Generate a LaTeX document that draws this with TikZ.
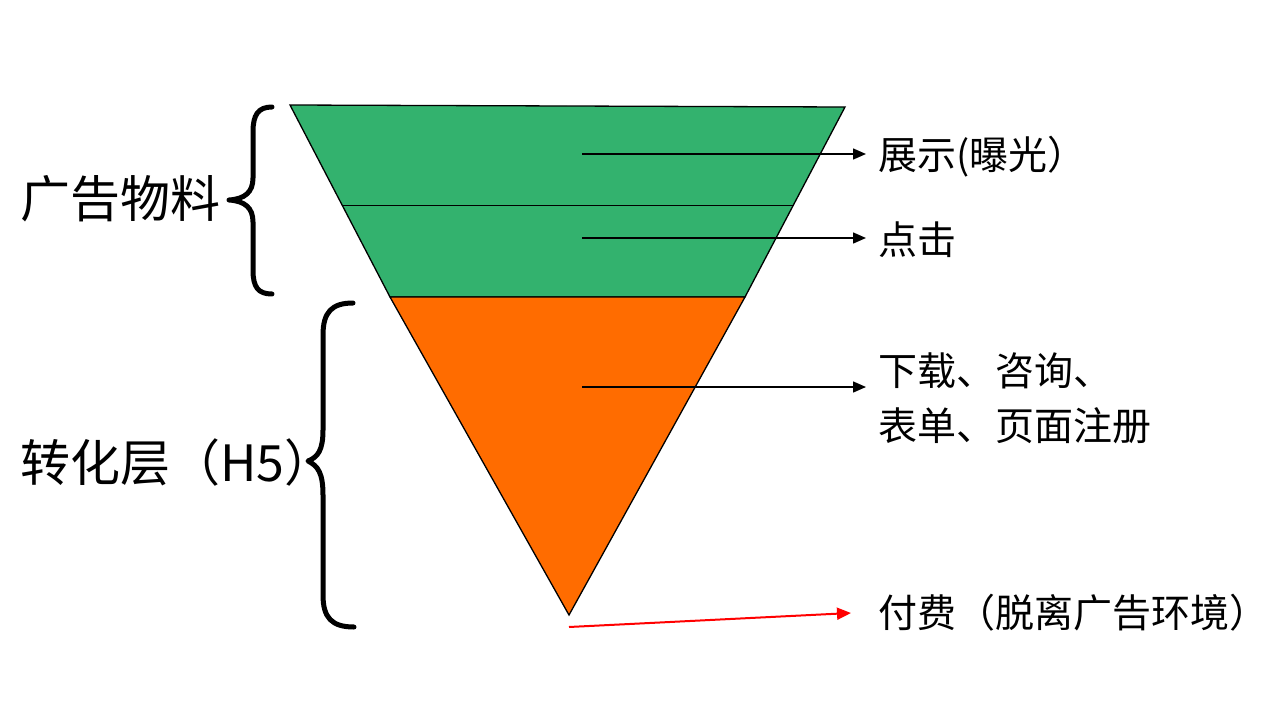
\documentclass[tikz,border=0pt]{standalone}
\usepackage{fontspec}
\setmainfont{Noto Sans CJK SC}
\usetikzlibrary{arrows.meta}
\definecolor{fgreen}{RGB}{51,178,110}
\definecolor{forange}{RGB}{255,108,0}
\tikzset{
  layer/.style={draw=black, line width=1.3pt, line join=miter},
  pointer/.style={draw=black, line width=1.5pt, -{Triangle[length=13pt,width=11pt]}},
  redpointer/.style={draw=red, line width=2pt, -{Triangle[length=14pt,width=12pt]}},
  bracepath/.style={draw=black, line width=5pt, line cap=round, line join=round},
  rlabel/.style={anchor=west, inner sep=0pt, font=\fontsize{39}{55}\selectfont, align=left},
  llabel/.style={anchor=west, inner sep=0pt, font=\fontsize{50}{58}\selectfont}
}
\begin{document}
\begin{tikzpicture}[x=1pt,y=-1pt]
\useasboundingbox (0,0) rectangle (1280,720);
% funnel
\coordinate (gTL) at (290,105);
\coordinate (gTR) at (845,107);
\coordinate (gBL) at (390,297);
\coordinate (gBR) at (745,297);
\coordinate (apex) at (569,615);
\coordinate (dL) at (342,205);
\coordinate (dR) at (793,205);
\path[layer, fill=fgreen] (gTL) -- (gTR) -- (gBR) -- (gBL) -- cycle;
\draw[line width=0.9pt] (dL) -- (dR);
\path[layer, fill=forange] (gBL) -- (gBR) -- (apex) -- cycle;
% braces
\draw[bracepath] (272,107) .. controls (258,107) and (253,115) .. (253,132)
  -- (253,178) .. controls (253,192) and (245,199) .. (229,200)
  .. controls (245,201) and (253,208) .. (253,222)
  -- (253,270) .. controls (253,287) and (258,294) .. (272,294);
\draw[bracepath] (353,303) .. controls (332,303) and (323,312) .. (323,335)
  -- (323,430) .. controls (323,450) and (318,457) .. (308,461)
  .. controls (318,466) and (323,473) .. (323,495)
  -- (323,595) .. controls (323,618) and (332,627) .. (354,627);
% left labels
\node[llabel] (ad) at (20,199) {广告物料};
\node[llabel] (conv) at (20,462) {转化层（H5）};
% right labels
\node[rlabel] (show) at (878,157) {展示(曝光）};
\node[rlabel] (click) at (878,240) {点击};
\node[rlabel, anchor=north west] (down) at (878,352) {下载、咨询、\\表单、页面注册};
\node[rlabel] (pay) at (878,613) {付费（脱离广告环境）};
% arrows
\coordinate (a1) at (582,154);
\coordinate (a2) at (582,238);
\coordinate (a3) at (582,387);
\coordinate (a4) at (569,627);
\coordinate (e1) at (866,154);
\coordinate (e2) at (866,238);
\coordinate (e3) at (866,387);
\coordinate (e4) at (851,613);
\draw[pointer] (a1) -- (e1);
\draw[pointer] (a2) -- (e2);
\draw[pointer] (a3) -- (e3);
\draw[redpointer] (a4) -- (e4);
\end{tikzpicture}
\end{document}
